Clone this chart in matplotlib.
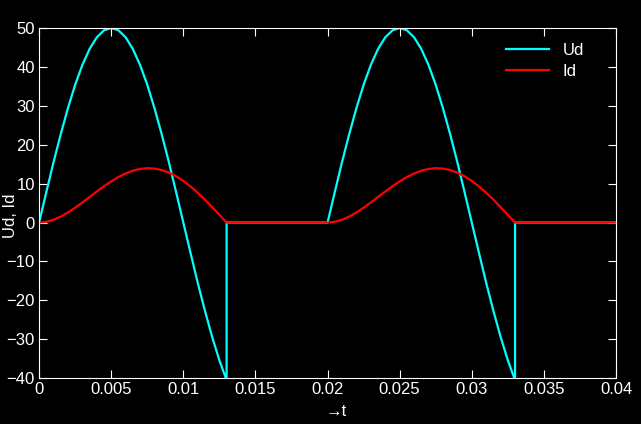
import numpy as np
import matplotlib.pyplot as plt

# one conduction interval (s), read every 0.5 ms
t_cond = [0.0, 0.0005, 0.001, 0.0015, 0.002, 0.0025, 0.003, 0.0035, 0.004, 0.0045,
          0.005, 0.0055, 0.006, 0.0065, 0.007, 0.0075, 0.008, 0.0085, 0.009, 0.0095,
          0.01, 0.0105, 0.011, 0.0115, 0.012, 0.0125, 0.013]
ud_cond = [0.0, 7.8, 15.5, 22.7, 29.4, 35.4, 40.5, 44.6, 47.6, 49.4,
           50.0, 49.4, 47.6, 44.6, 40.5, 35.4, 29.4, 22.7, 15.5, 7.8,
           0.0, -7.8, -15.5, -22.7, -29.4, -35.4, -40.5]
id_cond = [0.0, 0.19, 0.72, 1.53, 2.58, 3.81, 5.15, 6.56, 7.97, 9.33,
           10.58, 11.70, 12.62, 13.33, 13.78, 13.97, 13.88, 13.49, 12.83, 11.89,
           10.70, 9.27, 7.65, 5.87, 3.96, 1.98, 0.0]
period_starts = [0.0, 0.02]
t_end = 0.04

t_all, ud_all, id_all = [], [], []
for i, t0 in enumerate(period_starts):
    t_next = period_starts[i + 1] if i + 1 < len(period_starts) else t_end
    t_all += [t0 + t for t in t_cond] + [t0 + t_cond[-1], t_next]
    ud_all += ud_cond + [0.0, 0.0]
    id_all += id_cond + [0.0, 0.0]

plt.rcParams['font.family'] = ['Liberation Sans', 'DejaVu Sans']
fig = plt.figure(figsize=(6.41, 4.24), dpi=100, facecolor='black')
ax = fig.add_axes([0.061, 0.108, 0.9, 0.826], facecolor='black')

ax.plot(t_all, ud_all, color='#00ffff', linewidth=1.6, label='Ud')
ax.plot(t_all, id_all, color='#ff0000', linewidth=1.6, label='Id')

ax.set_xlim(0, 0.04)
ax.set_ylim(-40, 50)
ax.set_xticks([0, 0.005, 0.01, 0.015, 0.02, 0.025, 0.03, 0.035, 0.04])
ax.set_xticklabels(['0', '0.005', '0.01', '0.015', '0.02', '0.025', '0.03', '0.035', '0.04'])
ax.set_yticks(range(-40, 51, 10))
ax.tick_params(colors='white', direction='in', top=True, right=True,
               labelsize=12, length=6, pad=3)
for s in ax.spines.values():
    s.set_color('white')
ax.set_xlabel('\u2192t', color='white', fontsize=12)
ax.xaxis.set_label_coords(0.515, -0.074)
ax.set_ylabel('Ud, Id', color='white', fontsize=12)
ax.yaxis.set_label_coords(-0.036, 0.463)

leg = ax.legend(loc='upper right', frameon=False, fontsize=12, handlelength=2.6,
                labelspacing=0.35, bbox_to_anchor=(0.97, 1.0))
for txt in leg.get_texts():
    txt.set_color('white')

fig.savefig('out.png', dpi=100, facecolor='black')
